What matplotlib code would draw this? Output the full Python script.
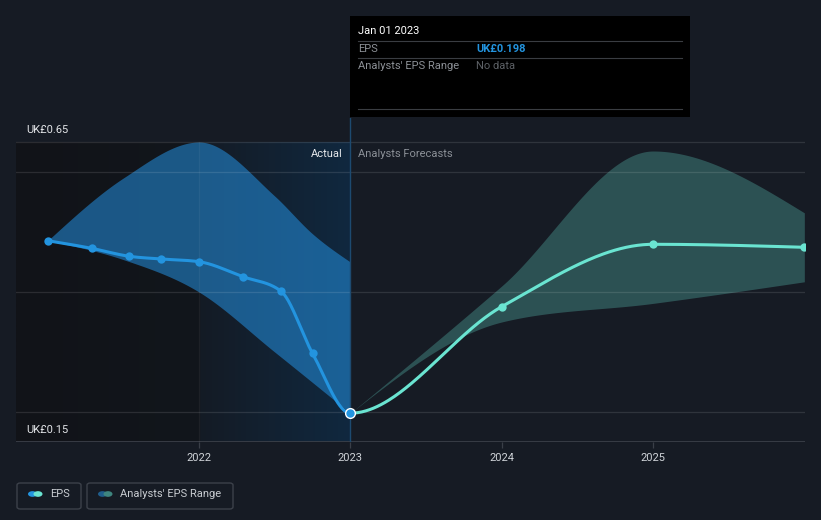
import numpy as np
import matplotlib
matplotlib.use("Agg")
import matplotlib.pyplot as plt
from matplotlib.patches import Rectangle, FancyBboxPatch, Circle
from matplotlib.colors import LinearSegmentedColormap


# data (x in decimal years)
ACTUAL_X = [2021.0, 2021.29, 2021.54, 2021.75, 2022.0, 2022.29, 2022.54, 2022.75, 2023.0]
ACTUAL_EPS = [0.4855, 0.4728, 0.4595, 0.455, 0.4505, 0.4255, 0.4017, 0.2978, 0.198]

PAST_HIGH_X = [2021.0, 2021.5, 2022.0, 2022.5, 2022.75, 2023.0]
PAST_HIGH = [0.4855, 0.59, 0.65, 0.56, 0.497, 0.45]
PAST_LOW_X = [2021.0, 2021.5, 2022.0, 2022.5, 2023.0]
PAST_LOW = [0.4855, 0.454, 0.40, 0.30, 0.198]

FORECAST_X = [2024.0, 2025.0, 2026.0]
FORECAST_EPS = [0.3755, 0.4795, 0.4745]

RANGE_X = [2023.0, 2024.0, 2025.0, 2026.0]
RANGE_HIGH = [0.198, 0.41, 0.635, 0.532]
RANGE_LOW = [0.198, 0.35, 0.381, 0.417]

GRID_VALUES = [0.65, 0.60, 0.40, 0.20]
Y_LABELS = [0.65, 0.15]
X_TICKS = [2022, 2023, 2024, 2025]
TODAY = 2023.0

BG = "#161b24"
BLUE = "#2394df"
TEAL = "#6ae4d1"
FONT = "Roboto"


def monotone_curve(xs, ys, n=80):
    """d3 curveMonotoneX style smoothing, only used for drawing."""
    xs = np.asarray(xs, dtype=float)
    ys = np.asarray(ys, dtype=float)
    h = np.diff(xs)
    s = np.diff(ys) / h
    t = np.zeros(len(xs))
    for i in range(1, len(xs) - 1):
        p = (s[i - 1] * h[i] + s[i] * h[i - 1]) / (h[i - 1] + h[i])
        t[i] = (np.sign(s[i - 1]) + np.sign(s[i])) * min(abs(s[i - 1]), abs(s[i]), 0.5 * abs(p))
    if len(xs) > 2:
        t[0] = (3 * s[0] - t[1]) / 2
        t[-1] = (3 * s[-1] - t[-2]) / 2
    else:
        t[:] = s[0]

    out_x, out_y = [], []
    for i in range(len(xs) - 1):
        u = np.linspace(0, 1, n)
        h00 = 2 * u**3 - 3 * u**2 + 1
        h10 = u**3 - 2 * u**2 + u
        h01 = -2 * u**3 + 3 * u**2
        h11 = u**3 - u**2
        yy = h00 * ys[i] + h10 * h[i] * t[i] + h01 * ys[i + 1] + h11 * h[i] * t[i + 1]
        xx = xs[i] + u * h[i]
        if i > 0:
            xx, yy = xx[1:], yy[1:]
        out_x.append(xx)
        out_y.append(yy)
    return np.concatenate(out_x), np.concatenate(out_y)


def main():
    W, H = 821, 520
    fig = plt.figure(figsize=(W / 100, H / 100), dpi=100)
    fig.patch.set_facecolor(BG)

    px_year = (653 - 199) / 3.0
    x_left = 2022 + (16 - 199) / px_year
    x_right = 2022 + (805 - 199) / px_year
    y_top = 0.65 + (142 - 118) / 600.0

    ax = fig.add_axes([16 / W, (H - 442) / H, (805 - 16) / W, (442 - 118) / H])
    ax.set_facecolor(BG)
    ax.set_xlim(x_left, x_right)
    ax.set_ylim(0.15, y_top)
    for sp in ax.spines.values():
        sp.set_visible(False)

    # past area shading: dark on the left, bluish towards today
    grad_cmap = LinearSegmentedColormap.from_list(
        "past", [(0.0, "#111318"), (0.55, "#12161c"), (0.551, "#141b25"), (1.0, "#10283f")]
    )
    grad = np.linspace(0, 1, 600).reshape(1, -1)
    ax.imshow(grad, cmap=grad_cmap, aspect="auto", extent=[x_left, TODAY, 0.15, 0.65],
              zorder=0, interpolation="bilinear")

    # ranges (both edges on a common x grid for the fill)
    hx, hy = monotone_curve(PAST_HIGH_X, PAST_HIGH)
    lx0, ly0 = monotone_curve(PAST_LOW_X, PAST_LOW)
    bx = np.linspace(PAST_HIGH_X[0], PAST_HIGH_X[-1], 500)
    ax.fill_between(bx, np.interp(bx, lx0, ly0), np.interp(bx, hx, hy),
                    color="#2490e0", alpha=0.55, lw=0, zorder=2)

    gx, gh = monotone_curve(RANGE_X, RANGE_HIGH)
    _, gl = monotone_curve(RANGE_X, RANGE_LOW)
    ax.fill_between(gx, gl, gh, color="#2d5355", alpha=0.97, lw=0, zorder=2)

    # grid
    for v in GRID_VALUES:
        ax.axhline(v, color="white", alpha=0.11, lw=0.9, zorder=3)
    ax.axhline(0.15, color="#3a3f48", lw=1.3, zorder=3)
    ax.plot([2022, 2022], [0.15, 0.65], color="white", alpha=0.05, lw=0.9, zorder=3)
    ax.plot([TODAY, TODAY], [0.15, y_top], color="#1d4a70", lw=1.0, zorder=3)

    # EPS line
    all_x = ACTUAL_X + FORECAST_X
    all_y = ACTUAL_EPS + FORECAST_EPS
    lx, ly = monotone_curve(all_x, all_y)
    past = lx <= TODAY
    ax.plot(lx[past], ly[past], color=BLUE, lw=2.2, zorder=4, solid_capstyle="round")
    ax.plot(lx[lx >= TODAY], ly[lx >= TODAY], color=TEAL, lw=2.2, zorder=4, solid_capstyle="round")
    ax.plot(ACTUAL_X[:-1], ACTUAL_EPS[:-1], "o", color=BLUE, ms=6, mew=0, zorder=5)
    ax.plot(FORECAST_X, FORECAST_EPS, "o", color=TEAL, ms=6, mew=0, zorder=5)
    ax.plot([ACTUAL_X[-1]], [ACTUAL_EPS[-1]], "o", color=BLUE, ms=7, mec="white", mew=1.0, zorder=6)

    # axes ticks
    ax.set_yticks([])
    ax.set_xticks(X_TICKS)
    ax.set_xticklabels([str(t) for t in X_TICKS], fontname=FONT, fontsize=8, color="#cfd3d8")
    ax.tick_params(axis="x", length=4, width=0.9, color="#3a3f48", pad=4)

    lab_x = x_left + 10 / px_year
    for v in Y_LABELS:
        ax.text(lab_x, v + 12 / 600.0, f"UK£{v:.2f}", fontname=FONT, fontsize=8,
                color="#e4e6e9", va="center", ha="left", zorder=6)

    ax.text(TODAY - 8 / px_year, 0.65 - 12 / 600.0, "Actual", fontname=FONT, fontsize=8,
            color="#e6e8eb", ha="right", va="center", zorder=6)
    ax.text(TODAY + 8 / px_year, 0.65 - 12 / 600.0, "Analysts Forecasts", fontname=FONT,
            fontsize=8, color="#8b9097", ha="left", va="center", zorder=6)

    # tooltip
    def fx(px):
        return px / W

    def fy(py):
        return 1 - py / H

    fig.patches.append(Rectangle((fx(350), fy(117)), 340 / W, 101 / H, transform=fig.transFigure,
                                 facecolor="black", edgecolor="none", zorder=10))
    for yy in (41, 58, 109):
        fig.lines.append(plt.Line2D([fx(358), fx(682)], [fy(yy), fy(yy)], transform=fig.transFigure,
                                    color="#3a3d42", lw=0.8, zorder=11))
    fig.text(fx(358), fy(31), "Jan 01 2023", fontname=FONT, fontsize=8, color="white",
             va="center", zorder=12)
    fig.text(fx(358), fy(49.5), "EPS", fontname=FONT, fontsize=8, color="#8c9096", va="center", zorder=12)
    fig.text(fx(476), fy(49.5), f"UK£{ACTUAL_EPS[-1]:.3f}", fontname=FONT, fontsize=8,
             color=BLUE, fontweight="bold", va="center", zorder=12)
    fig.text(fx(358), fy(66), "Analysts' EPS Range", fontname=FONT, fontsize=8, color="#8c9096",
             va="center", zorder=12)
    fig.text(fx(476), fy(66), "No data", fontname=FONT, fontsize=8, color="#5d6166",
             va="center", zorder=12)

    # legend
    legend_items = [
        (17, 64, "EPS", BLUE, TEAL),
        (87, 146, "Analysts' EPS Range", "#1f5d8c", "#3e857f"),
    ]
    for x0, w, label, c1, c2 in legend_items:
        fig.patches.append(FancyBboxPatch((fx(x0), fy(509)), w / W, 26 / H,
                                          boxstyle="round,pad=0,rounding_size=0.004",
                                          transform=fig.transFigure, facecolor="none",
                                          edgecolor="#3c414a", lw=1.0, zorder=10))
        fig.patches.append(Circle((fx(x0 + 15.5), fy(494)), 4.5 / W, transform=fig.transFigure,
                                  facecolor=c1, edgecolor="none", zorder=11))
        fig.patches.append(Circle((fx(x0 + 21), fy(494)), 4.5 / W, transform=fig.transFigure,
                                  facecolor=c2, edgecolor="none", zorder=12))
        fig.text(fx(x0 + 33), fy(494), label, fontname=FONT, fontsize=8, color="#c8ccd1",
                 va="center", zorder=12)

    fig.savefig("out.png", dpi=100, facecolor=BG)
    plt.close(fig)


if __name__ == "__main__":
    main()
